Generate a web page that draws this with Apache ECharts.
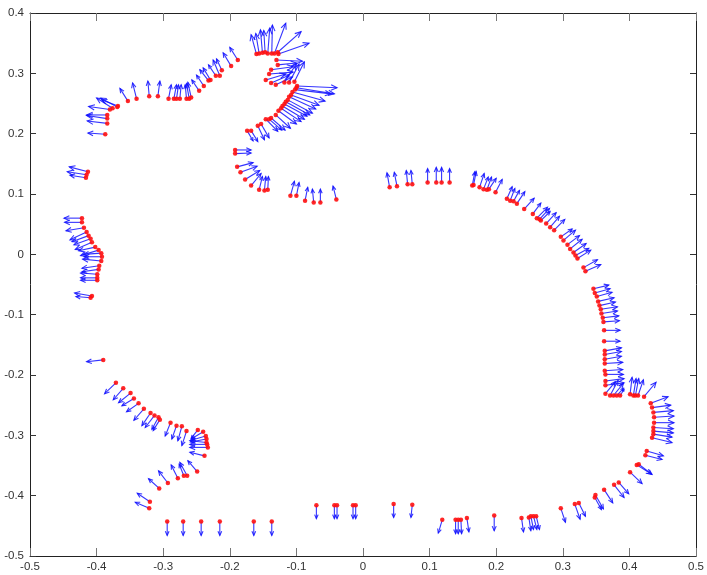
<!DOCTYPE html>
<html>
<head>
<meta charset="utf-8">
<script src="https://cdn.jsdelivr.net/npm/echarts@6/dist/echarts.min.js"></script>
<style>
  html, body { margin: 0; padding: 0; background: #fff; }
  #chart { width: 707px; height: 575px; }
</style>
</head>
<body>
<div id="chart"></div>
<script>
// Contour sample positions (one line per stretch of the outline)
const ptX = [
  -0.387,-0.384,-0.384,-0.384,-0.380,-0.376,-0.369,-0.368,-0.353,-0.340,-0.321,-0.308,-0.292,-0.284,-0.280,-0.275,-0.265,-0.261,-0.258,-0.246,-0.239,-0.232,-0.229,-0.221,-0.215,-0.212,-0.198,-0.188,
  -0.413,-0.415,-0.416,
  -0.422,-0.422,-0.419,-0.415,-0.412,-0.409,-0.407,-0.402,-0.397,-0.393,-0.392,-0.393,-0.396,-0.397,-0.399,-0.399,-0.399,-0.407,-0.409,
  -0.390,-0.371,-0.360,-0.349,-0.344,-0.337,-0.329,-0.319,-0.313,-0.307,-0.305,-0.289,-0.280,-0.272,-0.265,-0.248,-0.240,-0.236,-0.235,-0.234,-0.233,-0.235,-0.238,-0.249,-0.264,-0.269,-0.278,-0.293,-0.306,-0.320,-0.321,
  -0.294,-0.270,-0.243,-0.215,-0.164,-0.137,-0.070,-0.043,-0.039,-0.015,-0.011,0.046,0.074,
  0.119,0.139,0.143,0.147,0.156,0.197,0.238,0.249,0.252,0.256,0.260,0.297,0.318,0.324,0.348,0.349,0.362,0.377,0.384,0.401,0.411,0.414,0.424,0.426,
  0.434,0.436,0.436,0.436,0.437,0.437,0.436,0.434,0.432,0.422,0.401,0.406,0.409,0.413,0.364,0.371,0.376,0.381,0.386,0.364,0.364,0.364,0.363,0.363,0.363,0.363,0.363,0.362,0.362,0.361,0.360,0.358,0.357,0.355,0.353,0.351,0.348,0.346,
  0.334,0.331,0.322,0.319,0.316,0.311,0.307,0.301,0.297,0.287,0.281,0.275,0.267,0.265,0.261,0.255,0.242,0.231,0.226,0.221,0.216,0.199,0.189,0.186,0.181,0.175,0.166,0.164,0.130,0.118,0.110,0.097,0.074,0.067,0.051,0.040,
  -0.040,-0.064,-0.074,-0.087,-0.100,-0.109,-0.143,-0.148,-0.156,-0.168,-0.177,-0.184,-0.189,-0.192,-0.192,
  -0.174,-0.168,-0.158,-0.153,-0.146,-0.141,-0.138,-0.131,-0.127,-0.123,-0.121,-0.118,-0.116,-0.113,-0.111,-0.108,-0.106,-0.102,-0.100,-0.099,
  -0.103,-0.111,-0.118,-0.131,-0.138,-0.146,-0.141,-0.138,-0.128,-0.130,-0.127,-0.128,-0.133,-0.137,-0.143,-0.147,-0.151,-0.156,-0.160
];
const ptY = [
  0.199,0.217,0.225,0.231,0.240,0.242,0.244,0.246,0.254,0.258,0.262,0.262,0.258,0.258,0.258,0.258,0.258,0.258,0.260,0.271,0.279,0.288,0.289,0.296,0.296,0.305,0.312,0.322,
  0.137,0.132,0.127,
  0.060,0.053,0.044,0.037,0.031,0.026,0.020,0.012,0.007,0.002,-0.004,-0.011,-0.019,-0.025,-0.033,-0.039,-0.043,-0.069,-0.072,
  -0.175,-0.213,-0.222,-0.230,-0.239,-0.247,-0.256,-0.263,-0.267,-0.270,-0.274,-0.279,-0.284,-0.285,-0.293,-0.291,-0.294,-0.301,-0.306,-0.315,-0.320,-0.312,-0.334,-0.360,-0.367,-0.367,-0.371,-0.379,-0.388,-0.410,-0.421,
  -0.443,-0.443,-0.443,-0.443,-0.443,-0.443,-0.416,-0.416,-0.416,-0.416,-0.416,-0.414,-0.415,
  -0.440,-0.440,-0.440,-0.440,-0.437,-0.433,-0.437,-0.436,-0.434,-0.434,-0.434,-0.421,-0.414,-0.412,-0.403,-0.399,-0.390,-0.382,-0.378,-0.361,-0.349,-0.348,-0.333,-0.326,
  -0.304,-0.298,-0.293,-0.287,-0.279,-0.270,-0.262,-0.254,-0.247,-0.236,-0.232,-0.234,-0.234,-0.234,-0.231,-0.234,-0.234,-0.234,-0.234,-0.217,-0.210,-0.199,-0.193,-0.181,-0.174,-0.166,-0.160,-0.144,-0.126,-0.112,-0.105,-0.098,-0.091,-0.085,-0.078,-0.070,-0.064,-0.057,
  -0.028,-0.022,-0.007,-0.002,0.003,0.009,0.016,0.023,0.029,0.040,0.045,0.051,0.056,0.058,0.060,0.067,0.075,0.084,0.088,0.089,0.092,0.103,0.108,0.107,0.108,0.111,0.115,0.114,0.119,0.119,0.119,0.119,0.116,0.116,0.113,0.111,
  0.091,0.086,0.086,0.089,0.097,0.097,0.107,0.106,0.107,0.114,0.124,0.136,0.145,0.167,0.173,
  0.205,0.205,0.213,0.216,0.224,0.224,0.226,0.231,0.238,0.242,0.246,0.249,0.253,0.256,0.261,0.264,0.269,0.273,0.276,0.279,
  0.286,0.285,0.285,0.281,0.284,0.289,0.299,0.306,0.314,0.322,0.332,0.335,0.333,0.333,0.333,0.335,0.334,0.333,0.332
];
// Normal vectors attached to each sample
const dirU = [
  -0.026,-0.030,-0.031,-0.031,-0.032,-0.024,-0.025,-0.024,-0.012,-0.006,-0.002,0.003,0.004,0.004,0.003,0.002,-0.002,-0.004,-0.005,-0.011,-0.011,-0.013,-0.011,-0.011,-0.010,-0.008,-0.012,-0.012,
  -0.028,-0.029,-0.024,
  -0.027,-0.026,-0.027,-0.025,-0.025,-0.025,-0.025,-0.025,-0.027,-0.027,-0.027,-0.028,-0.026,-0.025,-0.025,-0.025,-0.025,-0.026,-0.022,
  -0.025,-0.017,-0.015,-0.018,-0.018,-0.018,-0.015,-0.013,-0.014,-0.010,-0.010,-0.008,-0.007,-0.006,-0.007,-0.010,-0.018,-0.022,-0.024,-0.026,-0.027,-0.025,-0.022,-0.014,-0.011,-0.007,-0.010,-0.014,-0.016,-0.019,-0.021,
  0,0,0,0,0,0,0,0,0,0,0,0,-0.002,
  -0.006,0,0,0.001,0.003,0,0.003,0.003,0.004,0.005,0.005,0.007,0.008,0.010,0.010,0.012,0.013,0.015,0.015,0.018,0.022,0.020,0.025,0.025,
  0.030,0.028,0.030,0.030,0.030,0.030,0.030,0.028,0.026,0.018,0.003,0.004,0.005,0.008,0.015,0.012,0.015,0.010,0.006,0.028,0.028,0.027,0.027,0.027,0.025,0.025,0.025,0.024,0.024,0.024,0.024,0.024,0.025,0.024,0.024,0.023,0.023,0.023,
  0.023,0.021,0.020,0.020,0.019,0.018,0.018,0.018,0.017,0.016,0.014,0.015,0.014,0.015,0.016,0.012,0.015,0.012,0.009,0.007,0.008,0.010,0.011,0.007,0.007,0.007,0.004,0.004,0,0,0,0,-0.002,-0.002,-0.004,-0.004,
  -0.005,0,-0.002,0.004,0.004,0.006,0.001,0.002,0.005,0.015,0.022,0.025,0.024,0.024,0.024,
  0.009,0.010,0.010,0.012,0.018,0.019,0.021,0.022,0.027,0.030,0.033,0.034,0.036,0.037,0.040,0.042,0.049,0.054,0.057,0.060,
  0.015,0.015,0.018,0.025,0.027,0.030,0.036,0.033,0.028,0.039,0.046,0.035,0.017,0.001,0.003,-0.002,-0.003,-0.005,-0.008
];
const dirV = [
  0.002,0.004,0.005,0,0.005,0.017,0.015,0.010,0.021,0.026,0.025,0.025,0.023,0.023,0.023,0.023,0.023,0.025,0.025,0.018,0.018,0.018,0.020,0.018,0.026,0.019,0.022,0.021,
  0.008,0.005,0.004,
  0,0,-0.005,-0.013,-0.010,-0.010,-0.012,-0.006,-0.009,-0.002,0,0.003,-0.004,-0.004,0.002,0,0,0.005,0.002,
  -0.003,-0.018,-0.019,-0.016,-0.012,-0.014,-0.019,-0.021,-0.020,-0.020,-0.018,-0.022,-0.022,-0.024,-0.024,-0.014,-0.012,-0.007,-0.005,0,0,0.003,0.006,0.018,0.022,0.019,0.022,0.020,0.016,0.014,0.010,
  -0.023,-0.023,-0.023,-0.023,-0.023,-0.023,-0.022,-0.022,-0.022,-0.022,-0.022,-0.022,-0.021,
  -0.022,-0.023,-0.023,-0.023,-0.023,-0.025,-0.023,-0.022,-0.022,-0.022,-0.022,-0.023,-0.025,-0.022,-0.020,-0.023,-0.022,-0.021,-0.019,-0.019,-0.015,-0.017,-0.007,-0.008,
  -0.008,-0.005,-0.003,-0.002,0,0.002,0.003,0.004,0.011,0.024,0.028,0.028,0.028,0.026,0.020,0.025,0.020,0.012,0.010,0.004,0.004,0,0.002,0.002,0.005,0.005,0.005,0,0,0.002,0.003,0.004,0.004,0.006,0.006,0.007,0.007,0.006,
  0.011,0.013,0.014,0.012,0.015,0.016,0.015,0.017,0.013,0.018,0.018,0.018,0.015,0.018,0.018,0.018,0.018,0.020,0.018,0.020,0.020,0.021,0.018,0.021,0.020,0.023,0.022,0.023,0.023,0.025,0.025,0.023,0.023,0.023,0.023,0.024,
  0.022,0.022,0.022,0.022,0.022,0.024,0.022,0.023,0.022,0.020,0.015,0.010,0.007,0.001,0,
  -0.017,-0.018,-0.023,-0.023,-0.020,-0.018,-0.020,-0.022,-0.022,-0.022,-0.022,-0.020,-0.022,-0.022,-0.020,-0.017,-0.015,-0.007,-0.010,-0.003,
  0.033,0.030,0.031,0.013,0.013,0.010,0.003,0.005,0.003,-0.002,0.018,0.034,0.050,0.047,0.042,0.036,0.038,0.033,0.032
];
// Axis ticks
const xTicks = [-0.5,-0.4,-0.3,-0.2,-0.1,0,0.1,0.2,0.3,0.4,0.5];
const yTicks = [-0.5,-0.4,-0.3,-0.2,-0.1,0,0.1,0.2,0.3,0.4];

const n = Math.min(ptX.length, ptY.length, dirU.length, dirV.length);
const quiverData = [];
const dotData = [];
for (let i = 0; i < n; i++) {
  quiverData.push([ptX[i], ptY[i], dirU[i], dirV[i]]);
  dotData.push([ptX[i], ptY[i]]);
}

const ARROW = '#1010ff';
const fmt = v => String(Math.round(v * 10) / 10);
const labelFont = { fontFamily: '"Liberation Sans Narrow","Arial Narrow","Liberation Sans",sans-serif', fontSize: 11.5, color: '#333' };

function axisCommon(extra, tickLen, tickColor) {
  return Object.assign({
    type: 'value',
    splitLine: { show: false },
    axisLine: { show: true, onZero: false, lineStyle: { color: '#222', width: 1 } },
    axisTick: { show: true, inside: true, length: tickLen, lineStyle: { color: tickColor, width: 1 } }
  }, extra);
}

const chart = echarts.init(document.getElementById('chart'), null, { renderer: 'canvas' });
chart.setOption({
  backgroundColor: '#fff',
  animation: false,
  grid: { left: 30, right: 9, top: 13, bottom: 19, containLabel: false },
  xAxis: [
    axisCommon({ position: 'bottom', min: xTicks[0], max: xTicks[xTicks.length - 1], interval: 0.1,
      axisLabel: Object.assign({ formatter: fmt, margin: 5 }, labelFont) }, 8, '#777'),
    axisCommon({ position: 'top', min: xTicks[0], max: xTicks[xTicks.length - 1], interval: 0.1,
      axisLabel: { show: false } }, 8, '#777')
  ],
  yAxis: [
    axisCommon({ position: 'left', min: yTicks[0], max: yTicks[yTicks.length - 1], interval: 0.1,
      axisLabel: Object.assign({ formatter: fmt, margin: 6 }, labelFont) }, 6, '#333'),
    axisCommon({ position: 'right', min: yTicks[0], max: yTicks[yTicks.length - 1], interval: 0.1,
      axisLabel: { show: false } }, 6, '#333')
  ],
  series: [
    {
      type: 'custom',
      xAxisIndex: 0, yAxisIndex: 0,
      data: quiverData,
      encode: { x: 0, y: 1 },
      clip: false,
      renderItem: function (params, api) {
        const x = api.value(0), y = api.value(1), u = api.value(2), v = api.value(3);
        const p0 = api.coord([x, y]);
        const p1 = api.coord([x + u, y + v]);
        const dx = p1[0] - p0[0], dy = p1[1] - p0[1];
        const len = Math.hypot(dx, dy) || 1;
        const ux = dx / len, uy = dy / len;
        const h = Math.min(len * 0.3, 6), w = h * 0.45;
        const bx = p1[0] - ux * h, by = p1[1] - uy * h;
        const left = [bx - uy * w, by + ux * w];
        const right = [bx + uy * w, by - ux * w];
        return {
          type: 'group',
          children: [
            { type: 'line', shape: { x1: p0[0], y1: p0[1], x2: p1[0], y2: p1[1] },
              style: { stroke: ARROW, lineWidth: 1.1, opacity: 0.85 } },
            { type: 'polyline', shape: { points: [left, p1, right] },
              style: { stroke: ARROW, fill: null, lineWidth: 1.1, opacity: 0.85 } }
          ]
        };
      },
      z: 2
    },
    {
      type: 'scatter',
      xAxisIndex: 0, yAxisIndex: 0,
      data: dotData,
      symbol: 'circle',
      symbolSize: 4.5,
      itemStyle: { color: '#ff1010', opacity: 0.9 },
      z: 3
    }
  ]
});
</script>
</body>
</html>
